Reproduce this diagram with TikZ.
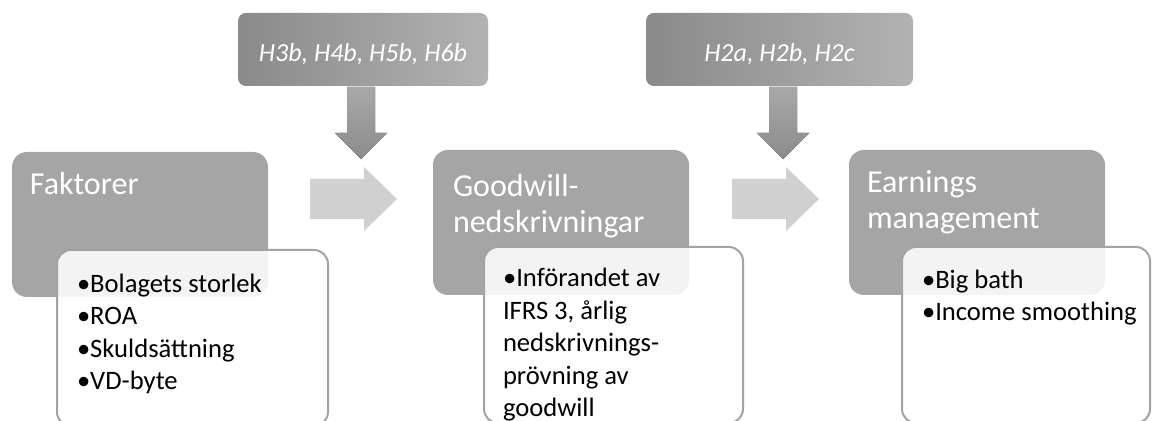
\documentclass[tikz,border=0pt]{standalone}
\usepackage{fontspec}
\setmainfont{Carlito}
\usetikzlibrary{positioning}

\definecolor{boxgray}{HTML}{A5A5A5}
\definecolor{linegray}{HTML}{A3A3A3}
\definecolor{arrowlight}{HTML}{D0D0D0}
\definecolor{hypdark}{HTML}{8A8A8A}
\definecolor{hyplight}{HTML}{B2B2B2}
\definecolor{feedtop}{HTML}{A8A8A8}
\definecolor{feedbot}{HTML}{8B8B8B}

\begin{document}
\begin{tikzpicture}[x=0.5pt,y=-0.5pt,inner sep=0pt,outer sep=0pt]
  \tikzstyle{topic}=[rectangle,rounded corners=7.5pt,fill=boxgray,
                     minimum width=128pt,minimum height=72.5pt,anchor=north west]
  \tikzstyle{detail}=[rectangle,rounded corners=7pt,draw=linegray,line width=1pt,
                      fill=white,fill opacity=0.87,draw opacity=1,
                      minimum height=88pt,anchor=north west]
  % base of a multi-line node = baseline of its last line
  \tikzstyle{title}=[text=white,align=left,anchor=base west,
                     font=\fontsize{16}{18}\selectfont]
  \tikzstyle{items}=[text=black,align=left,anchor=base west,
                     font=\fontsize{13.3}{16.25}\selectfont]
  \tikzstyle{hyp}=[rectangle,rounded corners=4pt,left color=hypdark,right color=hyplight,
                   minimum height=36.5pt,anchor=north west]
  \tikzstyle{hyptext}=[text=white,anchor=base,font=\fontsize{13}{15}\selectfont\itshape]
  \tikzstyle{flow}=[fill=arrowlight]
  \tikzstyle{feed}=[top color=feedtop,bottom color=feedbot]

  \useasboundingbox (0,0) rectangle (1152,421);
  \clip (0,0) rectangle (1152,421);

  % hypotheses
  \node[hyp,minimum width=125pt]   (h1) at (238,13) {};
  \node[hyp,minimum width=133.5pt] (h2) at (646,13) {};
  \node[hyptext] (h1t) at ([yshift=-6.25pt]h1.center) {H3b, H4b, H5b, H6b};
  \node[hyptext] (h2t) at ([yshift=-6.25pt]h2.center) {H2a, H2b, H2c};

  % arrows
  \foreach \x in {361,783}
    \fill[feed] (\x,87) -- ++(14,0) -- ++(0,46) -- ++(12,0) -- ++(-26,26)
                -- ++(-26,-26) -- ++(12,0) -- ++(0,-46) -- cycle;
  \foreach \x in {310,732}
    \fill[flow] (\x,179) -- ++(54,0) -- ++(0,-12) -- ++(33,32) -- ++(-33,32)
                -- ++(0,-12) -- ++(-54,0) -- cycle;

  % steps
  \node[topic] (fak) at (12,152)  {};
  \node[topic] (gw)  at (433,150) {};
  \node[topic] (em)  at (849,150) {};
  \node[title] (fakt) at (30,195)  {Faktorer};
  \node[title] (gwt)  at (453,233) {Goodwill-\\nedskrivningar};
  \node[title] (emt)  at (867,229) {Earnings\\management};

  \node[detail,minimum width=135.5pt] (fakd) at (57,250)  {};
  \node[detail,minimum width=129.5pt] (gwd)  at (484,247) {};
  \node[detail,minimum width=124pt]   (emd)  at (902,247) {};
  \node[items] (fakl) at (77,390)  {•Bolagets storlek\\•ROA\\•Skuldsättning\\•VD-byte};
  \node[items] (gwl)  at (503,417) {•Införandet av\\IFRS 3, årlig\\nedskrivnings-\\prövning av\\goodwill};
  \node[items] (eml)  at (922,321) {•Big bath\\•Income smoothing};

\end{tikzpicture}
\end{document}
